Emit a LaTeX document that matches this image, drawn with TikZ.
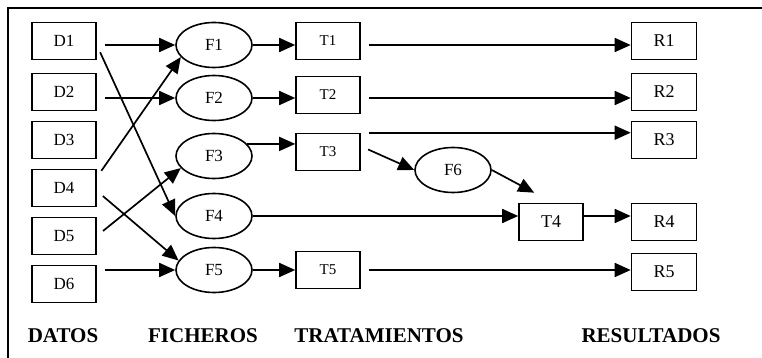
\documentclass[tikz,border=0pt]{standalone}
\usepackage{fontspec}
\setmainfont{Liberation Serif}
\usetikzlibrary{shapes.geometric,arrows.meta}

\begin{document}
\begin{tikzpicture}
[
x=1pt, y=-1pt,
dato/.style={rectangle, draw=black, line width=1.6pt, minimum width=64pt, minimum height=37pt, inner sep=0, font=\fontsize{17}{20}\selectfont},
fichero/.style={ellipse, draw=black, line width=1.6pt, minimum width=76pt, minimum height=45pt, inner sep=0, font=\fontsize{17}{20}\selectfont},
trat/.style={rectangle, draw=black, line width=1.6pt, minimum width=64pt, minimum height=37pt, inner sep=0, font=\fontsize{15}{18}\selectfont},
resul/.style={rectangle, draw=black, line width=1.6pt, minimum width=65pt, minimum height=37pt, inner sep=0, font=\fontsize{18}{21}\selectfont},
titulo/.style={font=\fontsize{21}{24}\selectfont\bfseries},
flecha/.style={line width=1.7pt, -{Triangle[length=16pt,width=14pt]}},
hueco/.style={shorten <=8pt}
]
\useasboundingbox (0,0) rectangle (762,358);
%Frame
\draw[line width=2.4pt] (8,358) -- (8,8) -- (762,8);

%Nodes
\node[dato]     (D1)    at (64,41)      {D1};
\node[dato]     (D2)    at (64,92)      {D2};
\node[dato]     (D3)    at (64,140)     {D3};
\node[dato]     (D4)    at (64,188)     {D4};
\node[dato]     (D5)    at (64,236)     {D5};
\node[dato]     (D6)    at (64,284)     {D6};

\node[fichero]  (F1)    at (214,45)     {F1};
\node[fichero]  (F2)    at (214,98)     {F2};
\node[fichero]  (F3)    at (214,156)    {F3};
\node[fichero]  (F4)    at (214,216)    {F4};
\node[fichero]  (F5)    at (214,270)    {F5};
\node[fichero]  (F6)    at (453,170)    {F6};

\node[trat]     (T1)    at (328,41)     {T1};
\node[trat]     (T2)    at (328,95)     {T2};
\node[trat]     (T3)    at (328,152)    {T3};
\node[trat, font=\fontsize{18}{21}\selectfont] (T4) at (551,222) {T4};
\node[trat]     (T5)    at (328,270)    {T5};

\node[resul]    (R1)    at (664,41)     {R1};
\node[resul]    (R2)    at (664,92)     {R2};
\node[resul]    (R3)    at (664,140)    {R3};
\node[resul]    (R4)    at (664,222)    {R4};
\node[resul]    (R5)    at (664,272)    {R5};

\node[titulo]   (datos) at (63,336)     {DATOS};
\node[titulo]   (fich)  at (203,336)    {FICHEROS};
\node[titulo]   (trata) at (379,336)    {TRATAMIENTOS};
\node[titulo]   (resu)  at (651,336)    {RESULTADOS};

%Lines
\draw[flecha, hueco] (D1.east |- F1.west) -- (F1.west);
\draw[flecha, hueco] (D1.east |- F1.west) -- (F4.west);
\draw[flecha, hueco] (D2.east |- F2.west) -- (F2.west);
\draw[flecha, hueco] (D4.18) -- (F1.200);
\draw[flecha, hueco] (D4.-5) -- (F5.165);
\draw[flecha, hueco] (D5.east) -- (F3.200);
\draw[flecha, hueco] (D6.east |- F5.west) -- (F5.west);

\draw[flecha] (F1.east) -- (F1.east -| T1.west);
\draw[flecha] (F2.east) -- (F2.east -| T2.west);
\draw[flecha] (F3.20) -- (F3.20 -| T3.west);
\draw[flecha] (F4.east) -- (F4.east -| T4.west);
\draw[flecha] (F5.east) -- (F5.east -| T5.west);

\draw[flecha, hueco] (T1.east |- F1.east) -- (F1.east -| R1.west);
\draw[flecha, hueco] (T2.east |- F2.east) -- (F2.east -| R2.west);
\draw[flecha, hueco] (T3.north east) -- (T3.north east -| R3.west);
\draw[flecha, hueco] (T3.10) -- (F6.west);
\draw[flecha] (F6.east) -- ([xshift=16pt,yshift=10pt]T4.north west);
\draw[flecha] (T4.east |- F4.east) -- (F4.east -| R4.west);
\draw[flecha, hueco] (T5.east |- F5.east) -- (F5.east -| R5.west);

\end{tikzpicture}
\end{document}
